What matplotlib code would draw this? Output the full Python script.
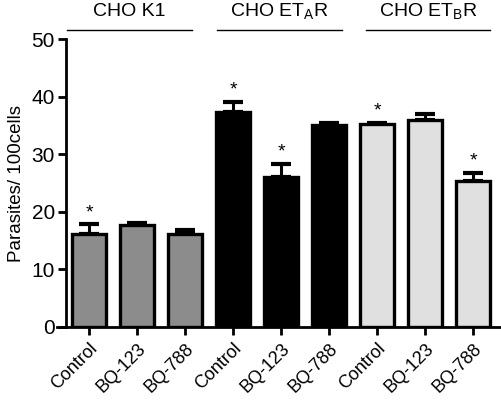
import matplotlib.pyplot as plt
import matplotlib.transforms as mtransforms

plt.rcParams['font.family'] = ['Liberation Sans', 'DejaVu Sans']

groups = ['CHO K1', 'CHO ET$_\\mathregular{A}$R', 'CHO ET$_\\mathregular{B}$R']
treatments = ['Control', 'BQ-123', 'BQ-788']
values = [16.2, 17.7, 16.2, 37.4, 26.0, 35.0, 35.2, 35.9, 25.3]
errors = [1.6, 0.3, 0.6, 1.6, 2.3, 0.4, 0.3, 1.0, 1.5]
colors = ['#8c8c8c'] * 3 + ['#000000'] * 3 + ['#e0e0e0'] * 3
stars = [True, False, False, True, True, False, True, False, True]

labels = treatments * 3
x = list(range(len(values)))

fig = plt.figure(figsize=(5.02, 4.09), dpi=100)
ax = fig.add_axes([0.1135, 0.2005, 0.8825, 0.704])

ax.bar(x, values, width=0.72, color=colors, edgecolor='black', linewidth=2.4, zorder=2)
ax.errorbar(x, values, yerr=[[0] * len(errors), errors], fmt='none', ecolor='black',
            elinewidth=2.2, capsize=7, capthick=3, zorder=1)

for xi, v, e, s in zip(x, values, errors, stars):
    if s:
        ax.text(xi, v + e + 0.6, '*', ha='center', va='bottom', fontsize=14)

ax.set_xlim(-0.67, 8.56)
ax.set_ylim(0, 50)
ax.set_yticks([0, 10, 20, 30, 40, 50])
ax.set_xticks(x)
ax.set_xticklabels(labels, rotation=45, ha='right', rotation_mode='anchor', fontsize=13)
ax.tick_params(axis='y', labelsize=15, width=2, length=6, pad=2)
ax.tick_params(axis='x', width=2, length=6)
ax.set_ylabel('Parasites/ 100cells', fontsize=13.5, labelpad=5)

ax.spines['top'].set_visible(False)
ax.spines['right'].set_visible(False)
ax.spines['left'].set_position(('data', -0.48))
ax.spines['left'].set_linewidth(2)
ax.spines['bottom'].set_linewidth(2)

trans = mtransforms.blended_transform_factory(ax.transData, ax.transAxes)
for i, g in enumerate(groups):
    lo = [-0.46, 2.67, 5.77][i]
    hi = [2.15, 5.27, 8.35][i]
    ax.plot([lo, hi], [1.031, 1.031], color='black', lw=1,
            transform=trans, clip_on=False)
    ax.text((lo + hi) / 2, 1.094, g, ha='center', va='center', fontsize=14, transform=trans)

fig.savefig('out.png', dpi=100)
